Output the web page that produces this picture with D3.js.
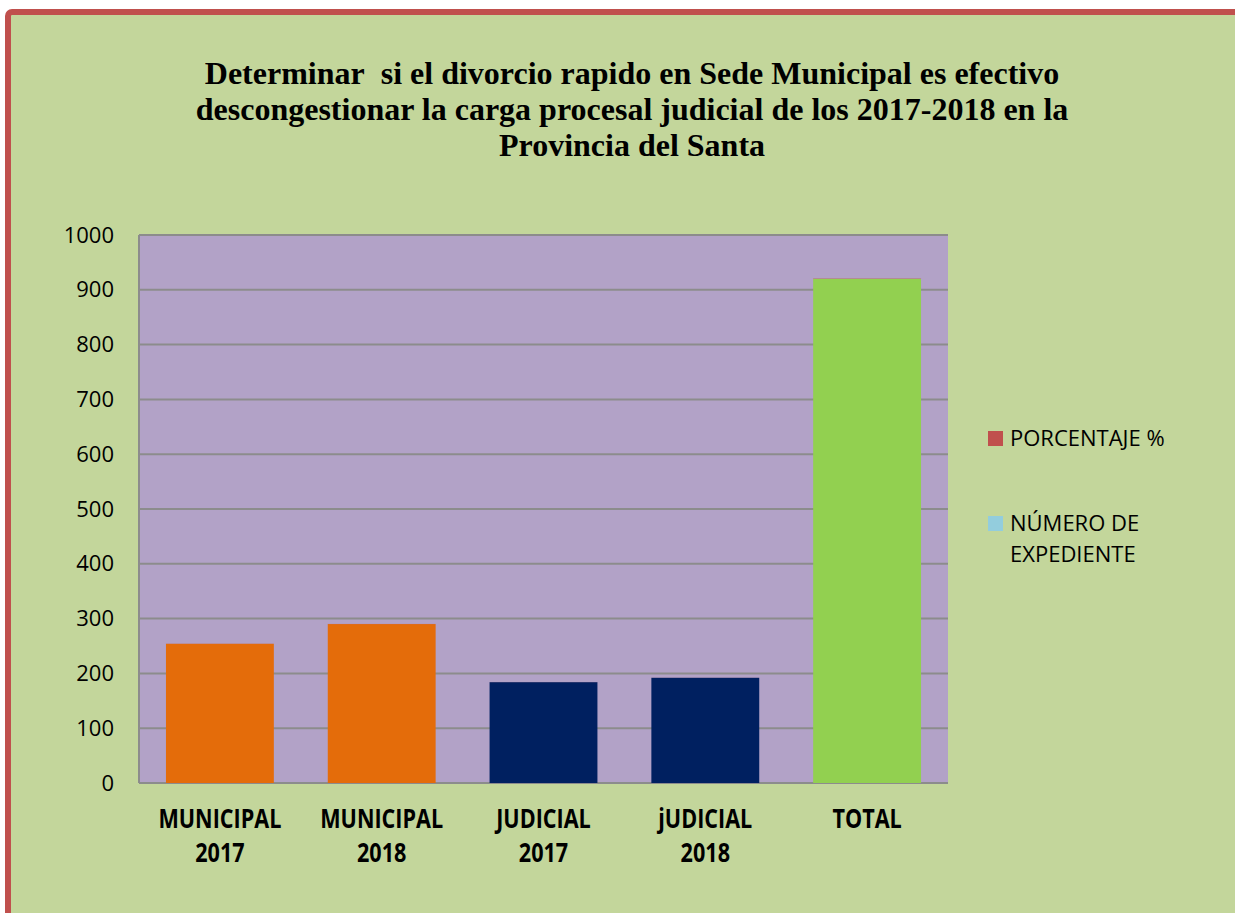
<!DOCTYPE html>
<html>
<head>
<meta charset="utf-8">
<script src="https://cdn.jsdelivr.net/npm/d3@7"></script>
<style>
  body { margin: 0; background: #fff; }
</style>
</head>
<body>
<div id="chart"></div>
<script>
const categories = ["MUNICIPAL 2017", "MUNICIPAL 2018", "JUDICIAL 2017", "jUDICIAL 2018", "TOTAL"];
const expedientes = [254, 290, 184, 192, 920];
const porcentaje = [0.276, 0.315, 0.2, 0.209, 1];
const barColors = ["#e46c0a", "#e46c0a", "#002060", "#002060", "#92d050"];
const yTicks = [0, 100, 200, 300, 400, 500, 600, 700, 800, 900, 1000];
const titleLines = [
  "Determinar\u00a0 si el divorcio rapido en Sede Municipal es efectivo",
  "descongestionar la carga procesal judicial de los 2017-2018 en la",
  "Provincia del Santa",
];
const legendItems = [
  { label: ["PORCENTAJE %"], color: "#c0504d" },
  { label: ["NÚMERO DE", "EXPEDIENTE"], color: "#93cddd" },
];

const W = 1235, H = 913;
const plot = { left: 139, top: 235, right: 948, bottom: 783 };

const svg = d3.select("#chart").append("svg")
  .attr("width", W).attr("height", H);

// outer chart area with red frame
svg.append("rect")
  .attr("x", 8).attr("y", 12)
  .attr("width", W + 20).attr("height", H + 20)
  .attr("rx", 4)
  .attr("fill", "#c3d69b")
  .attr("stroke", "#c0504d")
  .attr("stroke-width", 6);

// title
svg.append("g").selectAll("text")
  .data(titleLines)
  .enter().append("text")
  .attr("x", 632)
  .attr("y", (d, i) => 84 + i * 36)
  .attr("text-anchor", "middle")
  .attr("font-family", "Liberation Serif, Times New Roman, serif")
  .attr("font-weight", "bold")
  .attr("font-size", 32)
  .text(d => d);

const x = d3.scaleBand()
  .domain(categories)
  .range([plot.left, plot.right])
  .paddingInner(1 / 3)
  .paddingOuter(1 / 6);

const y = d3.scaleLinear()
  .domain([0, 1000])
  .range([plot.bottom, plot.top]);

// plot background
svg.append("rect")
  .attr("x", plot.left).attr("y", plot.top)
  .attr("width", plot.right - plot.left)
  .attr("height", plot.bottom - plot.top)
  .attr("fill", "#b2a2c7");

// gridlines
svg.append("g").selectAll("line")
  .data(yTicks)
  .enter().append("line")
  .attr("x1", plot.left).attr("x2", plot.right)
  .attr("y1", d => y(d)).attr("y2", d => y(d))
  .attr("stroke", "#8c8c8c")
  .attr("stroke-width", 2);

// left axis line
svg.append("line")
  .attr("x1", plot.left).attr("x2", plot.left)
  .attr("y1", plot.top).attr("y2", plot.bottom)
  .attr("stroke", "#8c8c8c").attr("stroke-width", 2);

// bars: expedientes
svg.append("g").selectAll("rect")
  .data(categories)
  .enter().append("rect")
  .attr("x", d => x(d))
  .attr("width", x.bandwidth())
  .attr("y", (d, i) => y(expedientes[i]))
  .attr("height", (d, i) => y(0) - y(expedientes[i]))
  .attr("fill", (d, i) => barColors[i]);

// stacked porcentaje (tiny)
svg.append("g").selectAll("rect")
  .data(categories)
  .enter().append("rect")
  .attr("x", d => x(d))
  .attr("width", x.bandwidth())
  .attr("y", (d, i) => y(expedientes[i] + porcentaje[i]))
  .attr("height", (d, i) => y(expedientes[i]) - y(expedientes[i] + porcentaje[i]))
  .attr("fill", "#c0504d")
  .attr("opacity", 0.6);

// y axis labels
const yAxis = svg.append("g")
  .attr("transform", `translate(${plot.left},0)`)
  .call(d3.axisLeft(y).tickValues(yTicks).tickFormat(d3.format("d")).tickSize(0).tickPadding(25));
yAxis.select(".domain").remove();
yAxis.selectAll("text")
  .attr("font-family", "Open Sans, sans-serif")
  .attr("font-size", 22)
  .attr("fill", "#000");

// x labels (bold, condensed)
const xl = svg.append("g").selectAll("g")
  .data(categories)
  .enter().append("g")
  .attr("transform", d => `translate(${x(d) + x.bandwidth() / 2},0) scale(0.8,1)`);
xl.selectAll("text")
  .data(d => d.split(" "))
  .enter().append("text")
  .attr("x", 0)
  .attr("y", (d, i) => 828 + i * 34)
  .attr("text-anchor", "middle")
  .attr("font-family", "Open Sans, sans-serif")
  .attr("font-weight", "bold")
  .attr("font-size", 27)
  .attr("fill", "#000")
  .text(d => d);

// legend
const lg = svg.append("g").selectAll("g")
  .data(legendItems)
  .enter().append("g")
  .attr("transform", (d, i) => `translate(988,${431 + i * 85})`);
lg.append("rect")
  .attr("width", 15).attr("height", 15)
  .attr("fill", d => d.color);
lg.selectAll("text")
  .data(d => d.label)
  .enter().append("text")
  .attr("x", 22)
  .attr("y", (d, i) => 15 + i * 31)
  .attr("font-family", "Open Sans, sans-serif")
  .attr("font-size", 22)
  .attr("fill", "#000")
  .text(d => d);
</script>
</body>
</html>
